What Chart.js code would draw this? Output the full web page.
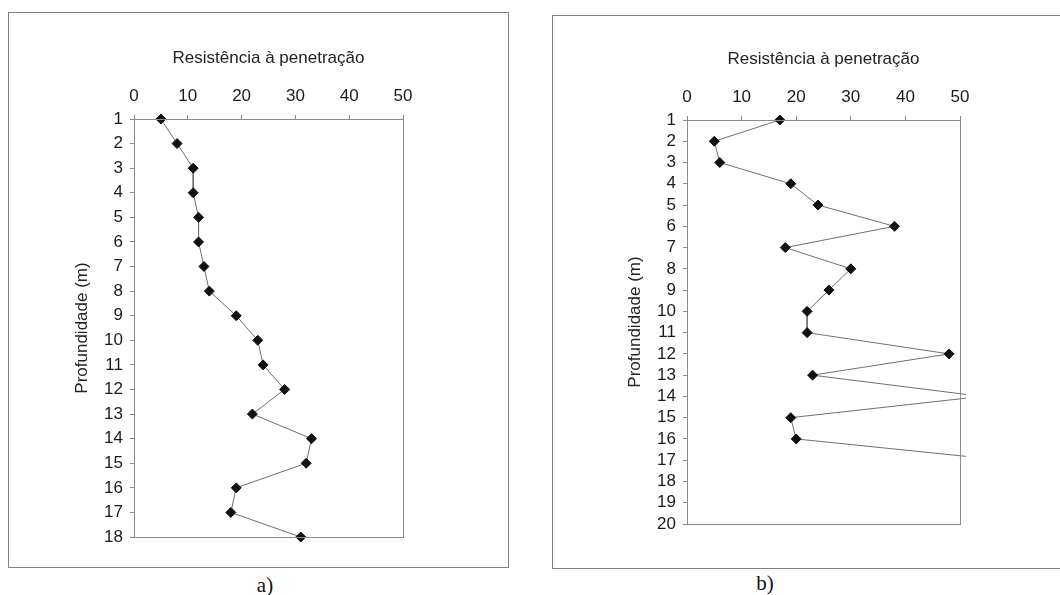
<!DOCTYPE html>
<html lang="pt">
<head>
  <meta charset="UTF-8" />
  <title>Resistência à penetração</title>
  <script src="https://cdn.jsdelivr.net/npm/chart.js"></script>
  <style>
    body {
      margin: 0;
      background: #fff;
      width: 1060px;
      height: 595px;
      position: relative;
      overflow: hidden;
      font-family: "Liberation Sans", Arial, sans-serif;
    }
    canvas {
      position: absolute;
      left: 0;
      top: 0;
    }
    .box {
      position: absolute;
      border: 1px solid #808080;
    }
    .tag {
      position: absolute;
      font-family: "Liberation Serif", "Times New Roman", serif;
      font-size: 21px;
      color: #111;
      transform: translate(-50%, -50%);
    }
  </style>
</head>
<body>
  <div class="box" style="left:8px; top:12px; width:499px; height:554px;"></div>
  <div class="box" style="left:552px; top:15px; width:520px; height:552px;"></div>
  <div class="tag" style="left:265px; top:585px;">a)</div>
  <div class="tag" style="left:765px; top:583px;">b)</div>

  <canvas id="chartA" width="1060" height="595"></canvas>
  <canvas id="chartB" width="1060" height="595"></canvas>

  <script>
    // profundidade (m) e resistência lida em cada ponto
    const depthA = [1, 2, 3, 4, 5, 6, 7, 8, 9, 10, 11, 12, 13, 14, 15, 16, 17, 18];
    const resistA = [5, 8, 11, 11, 12, 12, 13, 14, 19, 23, 24, 28, 22, 33, 32, 19, 18, 31];

    // em b) os pontos 14 e 17 ficam fora da escala (> 50)
    const depthB = [1, 2, 3, 4, 5, 6, 7, 8, 9, 10, 11, 12, 13, 14, 15, 16, 17];
    const resistB = [17, 5, 6, 19, 24, 38, 18, 30, 26, 22, 22, 48, 23, 54, 19, 20, 58];

    const xTicks = [0, 10, 20, 30, 40, 50];

    const axisGray = '#8a8a8a';
    const font17 = { family: '"Liberation Sans", Arial, sans-serif', size: 17 };

    // moldura da área do gráfico (estilo Excel)
    const frame = {
      id: 'frame',
      afterDatasetsDraw(chart) {
        const a = chart.chartArea;
        const ctx = chart.ctx;
        ctx.save();
        ctx.strokeStyle = axisGray;
        ctx.lineWidth = 1;
        ctx.strokeRect(Math.round(a.left) + 0.5, Math.round(a.top) + 0.5,
          Math.round(a.right - a.left), Math.round(a.bottom - a.top));
        ctx.restore();
      }
    };

    function makeChart(id, depth, resist, maxDepth, area) {
      const pts = depth.map((d, i) => ({ x: resist[i], y: d }));
      const yWidth = 62;
      const xHeight = 71;
      return new Chart(document.getElementById(id), {
        type: 'scatter',
        data: {
          datasets: [{
            data: pts,
            showLine: true,
            borderColor: '#707070',
            borderWidth: 1,
            pointStyle: 'rectRot',
            pointRadius: 5,
            pointBackgroundColor: '#111',
            pointBorderColor: '#111',
            pointBorderWidth: 1,
            clip: { left: 6, top: 6, right: 6, bottom: 6 }
          }]
        },
        options: {
          responsive: false,
          animation: false,
          layout: {
            padding: {
              left: area.left - yWidth,
              top: area.top - xHeight,
              right: 1060 - area.right,
              bottom: 595 - area.bottom
            }
          },
          plugins: { legend: { display: false }, tooltip: { enabled: false } },
          scales: {
            x: {
              type: 'linear',
              position: 'top',
              min: 0,
              max: 50,
              afterFit(s) { s.height = xHeight; },
              afterBuildTicks(s) { s.ticks = xTicks.map(v => ({ value: v })); },
              grid: { drawOnChartArea: false, drawTicks: true, tickLength: 4, color: axisGray },
              border: { color: axisGray },
              ticks: { color: '#1a1a1a', font: font17, padding: 8 },
              title: {
                display: true,
                text: 'Resistência à penetração',
                color: '#222',
                font: font17,
                padding: { top: 0, bottom: 0 }
              }
            },
            y: {
              type: 'linear',
              position: 'left',
              reverse: true,
              min: 1,
              max: maxDepth,
              afterFit(s) { s.width = yWidth; },
              ticks: { stepSize: 1, autoSkip: false, color: '#1a1a1a', font: font17, padding: 7 },
              grid: { drawOnChartArea: false, drawTicks: true, tickLength: 4, color: axisGray },
              border: { color: axisGray },
              title: {
                display: true,
                text: 'Profundidade (m)',
                color: '#222',
                font: font17,
                padding: { top: 0, bottom: 0 }
              }
            }
          }
        },
        plugins: [frame]
      });
    }

    makeChart('chartA', depthA, resistA, 18, { left: 134, top: 119, right: 403, bottom: 537 });
    makeChart('chartB', depthB, resistB, 20, { left: 687, top: 120, right: 960, bottom: 524 });
  </script>
</body>
</html>
